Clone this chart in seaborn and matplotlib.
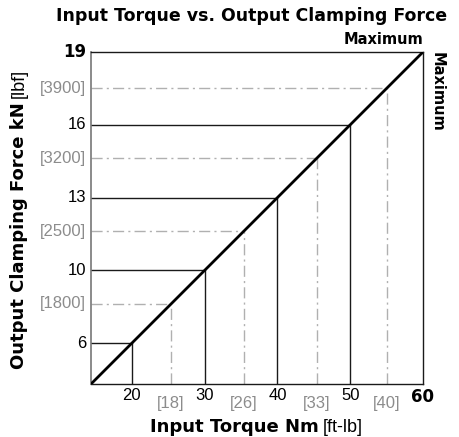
import matplotlib
matplotlib.use("Agg")
import matplotlib.pyplot as plt
import seaborn as sns
import numpy as np

sns.set_theme(style="white")
plt.rcParams['font.family'] = ['Liberation Sans', 'DejaVu Sans']
plt.rcParams['text.color'] = 'black'

# ---- data ----
nm_ticks = [20, 30, 40, 50, 60]            # Input torque, Nm
kn_ticks = [6, 10, 13, 16, 19]             # Output clamping force, kN
ftlb_labels = [18, 26, 33, 40]             # Input torque, ft-lb
lbf_labels = [1800, 2500, 3200, 3900]      # Output clamping force, lbf
imperial_pos = [25.4, 35.4, 45.4, 55.0]    # where the imperial guides meet the curve (Nm scale)
axis_min = 14.4
diag = [axis_min, 60]

BOLD = ['DejaVu Sans']
W, H = 460, 437
fig = plt.figure(figsize=(W / 100, H / 100), dpi=100)
ax = fig.add_axes([91 / W, (H - 384) / H, 332 / W, 332 / H])
ax.set_xlim(axis_min, 60)
ax.set_ylim(axis_min, 60)

dark = "#1a1a1a"
gray = "#8c8c8c"

# metric guides
for v in nm_ticks[:-1]:
    ax.plot([axis_min, v], [v, v], color=dark, lw=1.0, zorder=2)
    ax.plot([v, v], [axis_min, v], color=dark, lw=1.0, zorder=2)
# imperial guides
for v in imperial_pos:
    ax.plot([axis_min, v], [v, v], color="#b0b0b0", lw=1.0, ls=(0, (8, 3, 1.5, 3)), zorder=1)
    ax.plot([v, v], [axis_min, v], color="#b0b0b0", lw=1.0, ls=(0, (8, 3, 1.5, 3)), zorder=1)

sns.lineplot(x=diag, y=diag, ax=ax, color="black", lw=2.0, zorder=3)

for s in ["top", "right", "bottom"]:
    ax.spines[s].set_color(dark)
    ax.spines[s].set_linewidth(1.0)
ax.spines["left"].set_color("#777777")
ax.spines["left"].set_linewidth(1.2)
ax.set_xticks([])
ax.set_yticks([])

# y tick labels
ytr = ax.get_yaxis_transform()
for v, k in zip(nm_ticks, kn_ticks):
    if v == 60:
        ax.text(-0.015, v, str(k), transform=ytr, ha="right", va="center",
                fontsize=12, fontweight="bold", family=BOLD)
    else:
        ax.text(-0.015, v, str(k), transform=ytr, ha="right", va="center", fontsize=12)
for v, k in zip(imperial_pos, lbf_labels):
    ax.text(-0.015, v, f"[{k}]", transform=ytr, ha="right", va="center",
            fontsize=12, color=gray)

# x tick labels
xtr = ax.get_xaxis_transform()
for v in nm_ticks:
    if v == 60:
        ax.text(v, -0.012, str(v), transform=xtr, ha="center", va="top",
                fontsize=12, fontweight="bold", family=BOLD)
    else:
        ax.text(v, -0.012, str(v), transform=xtr, ha="center", va="top", fontsize=12)
for v, k in zip(imperial_pos, ftlb_labels):
    ax.text(v, -0.036, f"[{k}]", transform=xtr, ha="center", va="top",
            fontsize=12, color=gray)

# title & maximum labels
fig.text(252 / W, 1 - 16 / H, "Input Torque vs. Output Clamping Force", ha="center", va="center",
         fontsize=12.5, fontweight="bold", family=BOLD)
ax.text(1.0, 1.015, "Maximum", transform=ax.transAxes, ha="right", va="bottom",
        fontsize=10.5, fontweight="bold", family=BOLD)
ax.text(1.02, 1.0, "Maximum", transform=ax.transAxes, ha="left", va="top",
        fontsize=10.5, fontweight="bold", rotation=-90, family=BOLD)

# axis labels (bold + normal parts)
fig.canvas.draw()
r = fig.canvas.get_renderer()
gap = 4
xb = fig.text(0, 1 - 427 / H, "Input Torque Nm", ha="left", va="center", fontsize=13,
              fontweight="bold", family=BOLD)
xn = fig.text(0, 1 - 427 / H, "[ft-lb]", ha="left", va="center", fontsize=13)
wb = xb.get_window_extent(r).width
wn = xn.get_window_extent(r).width
start = 256 - (wb + gap + wn) / 2
xb.set_x(start / W)
xn.set_x((start + wb + gap) / W)

yb = fig.text(19 / W, 0, "Output Clamping Force kN", ha="center", va="bottom", rotation=90,
              fontsize=13, fontweight="bold", family=BOLD)
yn = fig.text(19 / W, 0, "[lbf]", ha="center", va="bottom", rotation=90, fontsize=13)
hb = yb.get_window_extent(r).height
hn = yn.get_window_extent(r).height
bottom_px = H - (219 + (hb + gap + hn) / 2)
yb.set_y(bottom_px / H)
yn.set_y((bottom_px + hb + gap) / H)

fig.savefig("out.png", dpi=100)
